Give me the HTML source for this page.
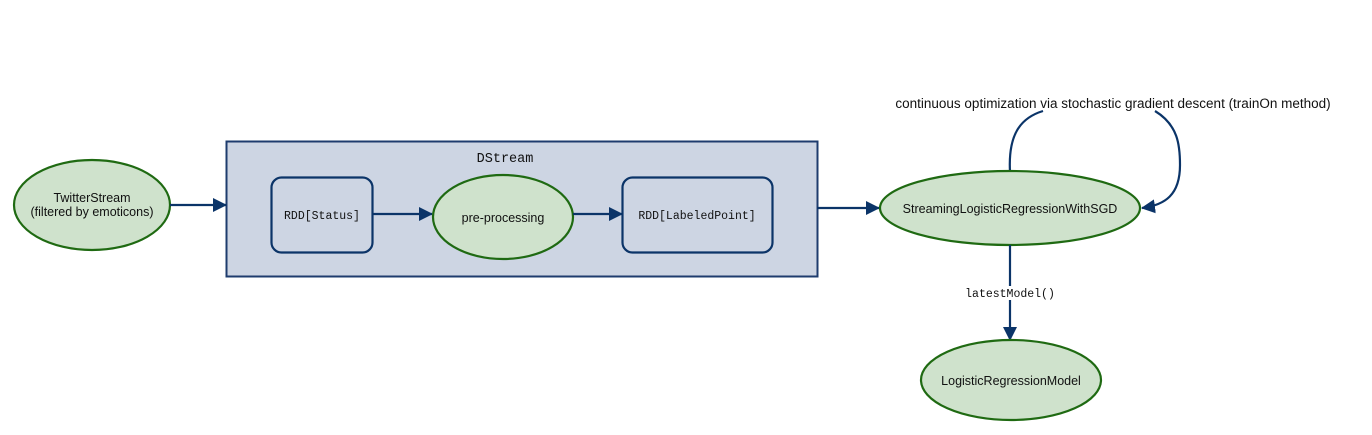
<!DOCTYPE html>
<html><head><meta charset="utf-8"><style>html,body{margin:0;padding:0;background:#fff;}svg{display:block}</style></head>
<body>
<svg width="1372" height="435" viewBox="0 0 1372 435" xmlns="http://www.w3.org/2000/svg">
<defs>
<marker id="a" markerWidth="14" markerHeight="14" refX="13" refY="7" orient="auto" markerUnits="userSpaceOnUse"><path d="M0,0 L14,7 L0,14 z" fill="#0b3468"/></marker>
</defs>
<g font-family="Liberation Sans, sans-serif" font-size="12.5" fill="#111">
<rect x="226.5" y="141.5" width="591" height="135" fill="#cdd5e3" stroke="#1e3c6e" stroke-width="2"/>
<text x="505" y="162" text-anchor="middle" font-family="Liberation Mono, monospace" font-size="13.5">DStream</text>
<ellipse cx="92" cy="205" rx="78" ry="45" fill="#cfe2cc" stroke="#1f6a12" stroke-width="2.2"/>
<text x="92" y="202" text-anchor="middle">TwitterStream</text>
<text x="92" y="216" text-anchor="middle">(filtered by emoticons)</text>
<line x1="170" y1="205" x2="226" y2="205" stroke="#0b3468" stroke-width="2.2" marker-end="url(#a)"/>
<rect x="271.5" y="177.5" width="101" height="75" rx="10" fill="#cdd5e3" stroke="#0b3468" stroke-width="2.2"/>
<text x="322" y="219" text-anchor="middle" font-family="Liberation Mono, monospace" font-size="11.5">RDD[Status]</text>
<line x1="372" y1="214" x2="432" y2="214" stroke="#0b3468" stroke-width="2.2" marker-end="url(#a)"/>
<ellipse cx="503" cy="217" rx="70" ry="42" fill="#cfe2cc" stroke="#1f6a12" stroke-width="2.2"/>
<text x="503" y="222" text-anchor="middle">pre-processing</text>
<line x1="573" y1="214" x2="622" y2="214" stroke="#0b3468" stroke-width="2.2" marker-end="url(#a)"/>
<rect x="622.5" y="177.5" width="150" height="75" rx="10" fill="#cdd5e3" stroke="#0b3468" stroke-width="2.2"/>
<text x="697" y="219" text-anchor="middle" font-family="Liberation Mono, monospace" font-size="11.5">RDD[LabeledPoint]</text>
<line x1="817" y1="208" x2="879" y2="208" stroke="#0b3468" stroke-width="2.2" marker-end="url(#a)"/>
<path d="M1010,172 C1008,135 1020,118 1043,111" fill="none" stroke="#0b3468" stroke-width="2.2"/>
<path d="M1155,111 C1178,125 1180,145 1180,165 C1180,195 1165,205 1142,208" fill="none" stroke="#0b3468" stroke-width="2.2" marker-end="url(#a)"/>
<text x="1113" y="108" text-anchor="middle" font-size="13.5">continuous optimization via stochastic gradient descent (trainOn method)</text>
<ellipse cx="1010" cy="208" rx="130" ry="37" fill="#cfe2cc" stroke="#1f6a12" stroke-width="2.2"/>
<text x="1010" y="213" text-anchor="middle">StreamingLogisticRegressionWithSGD</text>
<line x1="1010" y1="245" x2="1010" y2="340" stroke="#0b3468" stroke-width="2.2" marker-end="url(#a)"/>
<rect x="960" y="286" width="100" height="14" fill="#fff"/>
<text x="1010" y="297" text-anchor="middle" font-family="Liberation Mono, monospace" font-size="11.5">latestModel()</text>
<ellipse cx="1011" cy="380" rx="90" ry="40" fill="#cfe2cc" stroke="#1f6a12" stroke-width="2.2"/>
<text x="1011" y="385" text-anchor="middle">LogisticRegressionModel</text>
</g>
</svg>
</body></html>
